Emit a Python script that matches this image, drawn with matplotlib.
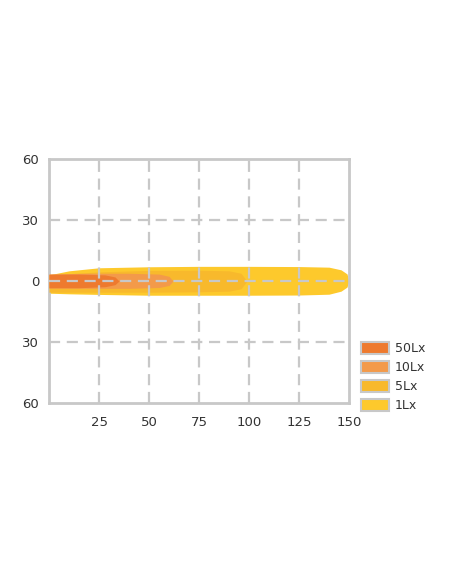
import matplotlib.pyplot as plt
from matplotlib.patches import Patch

# beam outlines: distance (m), upper and lower edge (m)
lux_labels = ["50Lx", "10Lx", "5Lx", "1Lx"]
lux_colors = ["#ee7a2e", "#f39a4a", "#f8b92c", "#fdc92c"]

x_1lx = [0, 10, 25, 50, 75, 100, 125, 140, 146, 149, 150]
top_1lx = [3.0, 5.0, 6.5, 7.0, 7.2, 7.2, 7.1, 6.8, 5.5, 3.5, 0]
bot_1lx = [-6.0, -6.3, -6.6, -7.0, -7.0, -7.0, -6.9, -6.5, -5.0, -3.0, 0]
x_5lx = [0, 25, 50, 75, 90, 96, 99]
top_5lx = [3.0, 4.5, 5.2, 5.3, 5.0, 3.8, 0]
bot_5lx = [-5.5, -5.5, -5.5, -5.3, -5.0, -3.8, 0]
x_10lx = [0, 20, 40, 55, 60, 62]
top_10lx = [3.5, 3.8, 3.8, 3.4, 2.3, 0]
bot_10lx = [-3.5, -3.6, -3.6, -3.2, -2.2, 0]
x_50lx = [0, 15, 28, 33, 35]
top_50lx = [3.3, 3.4, 3.0, 2.0, 0]
bot_50lx = [-3.3, -3.3, -2.8, -1.8, 0]

x_ticks = [25, 50, 75, 100, 125, 150]
y_ticks = [-60, -30, 0, 30, 60]
y_tick_labels = ["60", "30", "0", "30", "60"]

fig = plt.figure(figsize=(4.52, 5.84), dpi=100)
ax = fig.add_axes([49 / 452, 1 - 403 / 584, 300 / 452, 244 / 584])

outlines = [(x_50lx, top_50lx, bot_50lx), (x_10lx, top_10lx, bot_10lx),
            (x_5lx, top_5lx, bot_5lx), (x_1lx, top_1lx, bot_1lx)]
for i in range(3, -1, -1):
    xs, top, bot = outlines[i]
    ax.fill_between(xs, bot, top, color=lux_colors[i], lw=0, zorder=2 + (3 - i))

ax.set_xlim(0, 150)
ax.set_ylim(-60, 60)
ax.set_xticks(x_ticks)
ax.set_yticks(y_ticks)
ax.set_yticklabels(y_tick_labels)
ax.tick_params(length=0, labelsize=9.5, labelcolor="#333333")
ax.tick_params(axis="x", pad=9)
ax.tick_params(axis="y", pad=7)

for v in [25, 50, 75, 100, 125]:
    ax.axvline(v, color="#c8c8c8", lw=1.6, ls=(0, (5, 3)), zorder=10)
for v in [-30, 0, 30]:
    ax.axhline(v, color="#c8c8c8", lw=1.6, ls=(0, (5, 3)), zorder=10)

for s in ax.spines.values():
    s.set_color("#c8c8c8")
    s.set_linewidth(2)

handles = [Patch(facecolor=c, edgecolor="#c8c8c8", linewidth=1.5) for c in lux_colors]
fig.legend(handles, lux_labels, loc="upper left", bbox_to_anchor=(350 / 452, 1 - 331 / 584),
           frameon=False, fontsize=9, handlelength=2.2, handleheight=1.1,
           labelspacing=0.45, handletextpad=0.5, labelcolor="#333333")

fig.savefig("out.png", dpi=100)
